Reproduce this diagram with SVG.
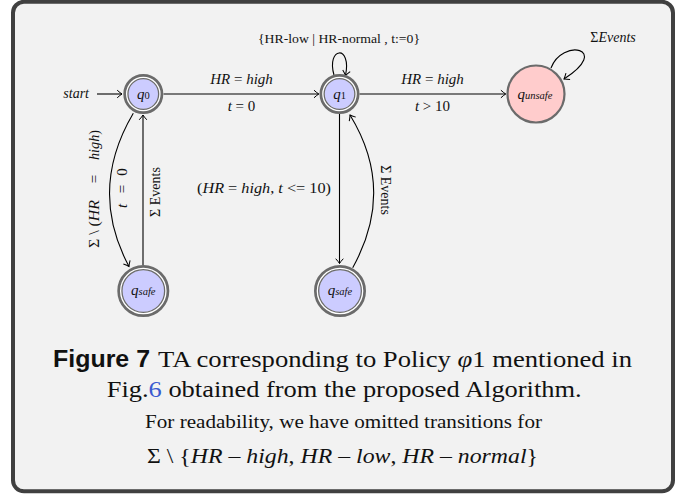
<svg xmlns="http://www.w3.org/2000/svg" width="687" height="499" viewBox="0 0 687 499">
  <style>
    .serif { font-family: "Liberation Serif", "DejaVu Serif", serif; fill: #111; }
    .it { font-style: italic; }
    .lbl { font-size: 15px; }
    .edge { fill: none; stroke: #000; stroke-width: 1.1; }
    .ring { fill: none; stroke: #6b6b6b; stroke-width: 5.3; }
    .gap { fill: none; stroke: #fff; stroke-width: 1.3; }
    .acc { fill: #ccccff; }
    .cap { font-family: "Liberation Serif", "DejaVu Serif", serif; fill: #111; }
  </style>
  <defs>
    <marker id="to" markerUnits="userSpaceOnUse" markerWidth="12" markerHeight="12" refX="0" refY="0" viewBox="-6 -6 12 12" orient="auto">
      <path d="M -4.8 -3.8 Q -1.7 -1 0 0 Q -1.7 1 -4.8 3.8" fill="none" stroke="#000" stroke-width="1"/>
    </marker>
  </defs>

  <!-- framed box -->
  <rect x="13" y="1.8" width="660" height="489.5" rx="11" fill="#f2f2f2" stroke="#404040" stroke-width="4"/>

  <!-- connectors -->
  <g id="connectors">
    <path class="edge" d="M 97 94 L 122 94" marker-end="url(#to)"/>
    <text class="serif it" x="89" y="97.5" font-size="14" text-anchor="end">start</text>

    <path class="edge" d="M 163.5 94 L 318.8 94" marker-end="url(#to)"/>
    <text class="serif lbl" x="241.5" y="83.5" text-anchor="middle"><tspan class="it">HR</tspan> = <tspan class="it">high</tspan></text>
    <text class="serif lbl" x="241.5" y="111" text-anchor="middle"><tspan class="it">t</tspan> = 0</text>

    <path class="edge" d="M 359.5 94 L 505.7 94" marker-end="url(#to)"/>
    <text class="serif lbl" x="432.5" y="83.5" text-anchor="middle"><tspan class="it">HR</tspan> = <tspan class="it">high</tspan></text>
    <text class="serif lbl" x="432.5" y="111" text-anchor="middle"><tspan class="it">t</tspan> &gt; 10</text>

    <!-- loop on q1 -->
    <path class="edge" d="M 334 75 C 326 47, 352 44, 345.5 75.5" marker-end="url(#to)"/>
    <text class="serif" x="339" y="42.5" font-size="13" text-anchor="middle" textLength="162" lengthAdjust="spacingAndGlyphs">{HR-low | HR-normal , t:=0}</text>

    <!-- loop on q_unsafe -->
    <path class="edge" d="M 551 68 C 562 38, 612 48, 564 79" marker-end="url(#to)"/>
    <text class="serif" x="613" y="41.5" font-size="14" text-anchor="middle">Σ<tspan class="it">Events</tspan></text>

    <!-- q0 to left q_safe -->
    <path class="edge" d="M 133.3 113.3 Q 88 190 129 266.5" marker-end="url(#to)"/>
    <g transform="translate(98.5,189) rotate(-90)">
      <text class="serif lbl" x="-59" y="0" textLength="48" lengthAdjust="spacingAndGlyphs">Σ \ (<tspan class="it">HR</tspan></text>
      <text class="serif lbl" x="10" y="0" text-anchor="middle">=</text>
      <text class="serif lbl it" x="29" y="0" textLength="30" lengthAdjust="spacingAndGlyphs">high<tspan font-style="normal">)</tspan></text>
    </g>
    <g transform="translate(126.5,189) rotate(-90)">
      <text class="serif lbl it" x="-17" y="0" text-anchor="middle">t</text>
      <text class="serif lbl" x="0" y="0" text-anchor="middle">=</text>
      <text class="serif lbl" x="17" y="0" text-anchor="middle">0</text>
    </g>

    <!-- left q_safe back to q0 -->
    <path class="edge" d="M 143 265 L 143 115" marker-end="url(#to)"/>
    <text class="serif" font-size="14" text-anchor="middle" transform="translate(160,192) rotate(-90)">Σ Events</text>

    <!-- q1 to right q_safe -->
    <path class="edge" d="M 339.5 114 L 339.5 263.5" marker-end="url(#to)"/>
    <text class="serif lbl" x="264" y="193" text-anchor="middle" textLength="134" lengthAdjust="spacingAndGlyphs">(<tspan class="it">HR</tspan> = <tspan class="it">high</tspan>, <tspan class="it">t</tspan> &lt;= 10)</text>

    <!-- right q_safe back to q1 -->
    <path class="edge" d="M 352.7 267.7 Q 396 190 350 115" marker-end="url(#to)"/>
    <text class="serif" font-size="14" text-anchor="middle" transform="translate(380.5,190) rotate(90)">Σ Events</text>
  </g>

  <!-- states -->
  <g id="q0">
    <circle class="acc" cx="143.3" cy="94" r="15"/>
    <circle class="ring" cx="143.3" cy="94" r="17.35"/>
    <circle class="gap" cx="143.3" cy="94" r="16.65"/>
    <text class="serif" x="143.3" y="98.5" text-anchor="middle" font-size="15"><tspan class="it">q</tspan><tspan font-size="10.5">0</tspan></text>
  </g>
  <g id="q1">
    <circle class="acc" cx="339.5" cy="94" r="15"/>
    <circle class="ring" cx="339.5" cy="94" r="17.35"/>
    <circle class="gap" cx="339.5" cy="94" r="16.65"/>
    <text class="serif" x="339.5" y="98.5" text-anchor="middle" font-size="15"><tspan class="it">q</tspan><tspan font-size="10.5">1</tspan></text>
  </g>
  <g id="q_unsafe">
    <circle cx="536" cy="94" r="28.5" fill="#ffcccc" stroke="#6b6b6b" stroke-width="2.2"/>
    <text class="serif it" x="535" y="98.5" text-anchor="middle" font-size="15">q<tspan font-size="10.5">unsafe</tspan></text>
  </g>
  <g id="q_safe_left">
    <circle class="acc" cx="143.3" cy="291" r="21"/>
    <circle class="ring" cx="143.3" cy="291" r="23.35"/>
    <circle class="gap" cx="143.3" cy="291" r="22.65"/>
    <text class="serif it" x="143.3" y="295" text-anchor="middle" font-size="15">q<tspan font-size="10.5">safe</tspan></text>
  </g>
  <g id="q_safe_right">
    <circle class="acc" cx="340" cy="291" r="21"/>
    <circle class="ring" cx="340" cy="291" r="23.35"/>
    <circle class="gap" cx="340" cy="291" r="22.65"/>
    <text class="serif it" x="340" y="295" text-anchor="middle" font-size="15">q<tspan font-size="10.5">safe</tspan></text>
  </g>

  <!-- caption -->
  <g id="caption">
    <text x="53" y="366.7" font-family="Liberation Sans, Arial, sans-serif" font-weight="bold" font-size="24.5" fill="#111" textLength="97" lengthAdjust="spacingAndGlyphs">Figure 7</text>
    <text class="cap" x="158" y="366.7" font-size="24" textLength="474" lengthAdjust="spacingAndGlyphs">TA corresponding to Policy <tspan font-style="italic">φ</tspan>1 mentioned in</text>
    <text class="cap" x="106.7" y="397.3" font-size="24" textLength="475" lengthAdjust="spacingAndGlyphs">Fig.<tspan fill="#3b5bd0">6</tspan> obtained from the proposed Algorithm.</text>
    <text class="cap" x="145" y="428" font-size="19.5" textLength="397" lengthAdjust="spacingAndGlyphs">For readability, we have omitted transitions for</text>
    <text class="cap" x="147" y="462.7" font-size="21" textLength="391" lengthAdjust="spacingAndGlyphs">Σ \ {<tspan font-style="italic">HR</tspan> – <tspan font-style="italic">high</tspan>, <tspan font-style="italic">HR</tspan> – <tspan font-style="italic">low</tspan>, <tspan font-style="italic">HR</tspan> – <tspan font-style="italic">normal</tspan>}</text>
  </g>
</svg>
